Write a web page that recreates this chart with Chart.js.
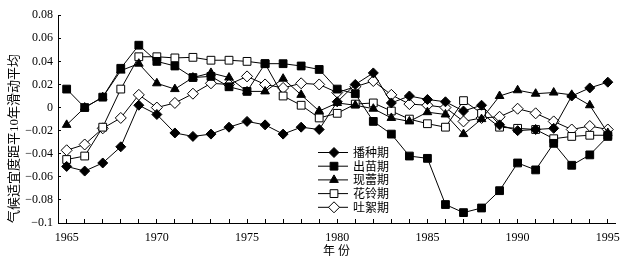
<!DOCTYPE html>
<html><head><meta charset="utf-8">
<script src="https://cdn.jsdelivr.net/npm/chart.js@4.4.1/dist/chart.umd.min.js"></script>
<style>html,body{margin:0;padding:0;background:#fff;}#wrap{width:632px;height:265px;position:relative;}</style>
</head><body>
<div id="wrap"><canvas id="c" width="632" height="265"></canvas></div>
<script>
const years = [1965,1966,1967,1968,1969,1970,1971,1972,1973,1974,1975,1976,1977,1978,1979,1980,1981,1982,1983,1984,1985,1986,1987,1988,1989,1990,1991,1992,1993,1994,1995];
const seriesNames = ['播种期','出苗期','现蕾期','花铃期','吐絮期'];
const sowing =   [-0.051,-0.055,-0.048,-0.034,0.002,-0.006,-0.022,-0.025,-0.023,-0.017,-0.012,-0.015,-0.023,-0.017,-0.019,0.005,0.020,0.030,0.004,0.010,0.007,0.005,-0.003,0.002,-0.015,-0.020,-0.019,-0.018,0.010,0.017,0.022];
const emergence = [0.016,0.000,0.009,0.034,0.054,0.040,0.036,0.026,0.027,0.018,0.014,0.038,0.038,0.036,0.033,0.016,0.012,-0.012,-0.023,-0.042,-0.044,-0.084,-0.091,-0.087,-0.072,-0.048,-0.054,-0.031,-0.050,-0.041,-0.025];
const budding =  [-0.015,0.000,0.009,0.032,0.038,0.021,0.016,0.026,0.030,0.026,0.014,0.014,0.025,0.011,-0.003,0.004,0.002,-0.001,-0.009,-0.012,-0.004,-0.006,-0.023,-0.010,0.010,0.015,0.012,0.013,0.011,0.002,-0.022];
const flowering = [-0.045,-0.042,-0.017,0.016,0.044,0.044,0.043,0.0435,0.041,0.041,0.040,0.038,0.010,0.002,-0.009,-0.005,0.003,0.004,-0.003,-0.010,-0.014,-0.017,0.006,-0.005,-0.017,-0.018,-0.019,-0.027,-0.025,-0.024,-0.024];
const boll =     [-0.037,-0.032,-0.018,-0.009,0.011,0.000,0.004,0.012,0.021,0.020,0.027,0.020,0.017,0.021,0.020,0.013,0.018,0.023,0.011,0.003,0.002,0.000,-0.012,-0.009,-0.008,-0.001,-0.005,-0.012,-0.019,-0.016,-0.019];
const yTickValues = [-0.1,-0.08,-0.06,-0.04,-0.02,0,0.02,0.04,0.06,0.08];
const yTickLabels = ['−0.1','−0.08','−0.06','−0.04','−0.02','0','0.02','0.04','0.06','0.08'];
const xTickLabels = ['1965','1970','1975','1980','1985','1990','1995'];
const yTitle = '气候适宜度距平10年滑动平均';
const xTitle = '年 份';

const serif = "'Liberation Serif','Times New Roman',serif";
const cjk = "'Liberation Serif','Noto Sans CJK SC',serif";

function mk(label, data, style, fill, r) {
  return {
    label, data: years.map((y, i) => ({x: y, y: data[i]})),
    borderColor: '#000', borderWidth: 1, backgroundColor: fill,
    pointStyle: style, pointRadius: r, pointHoverRadius: r,
    pointBackgroundColor: fill, pointBorderColor: '#000', pointBorderWidth: 1,
    tension: 0, fill: false
  };
}
const datasets = [
  mk(seriesNames[0], sowing, 'rectRot', '#000', 5),
  mk(seriesNames[1], emergence, 'rect', '#000', 5.5),
  mk(seriesNames[2], budding, 'triangle', '#000', 5),
  mk(seriesNames[3], flowering, 'rect', '#fff', 5.5),
  mk(seriesNames[4], boll, 'rectRot', '#fff', 5.5)
];

const legendPlugin = {
  id: 'customLegend',
  afterDraw(chart) {
    const ctx = chart.ctx;
    ctx.save();
    chart.data.datasets.forEach((ds, i) => {
      const y = 152.5 + i * 13.7;
      ctx.strokeStyle = '#000'; ctx.lineWidth = 1;
      ctx.beginPath(); ctx.moveTo(318, y); ctx.lineTo(348, y); ctx.stroke();
      ctx.fillStyle = ds.pointBackgroundColor; ctx.strokeStyle = '#000'; ctx.lineWidth = 1;
      Chart.helpers.drawPoint(ctx, {pointStyle: ds.pointStyle, radius: ds.pointRadius, borderWidth: 1, rotation: 0}, 334, y);
      ctx.fillStyle = '#000';
      ctx.font = "12px 'Noto Sans CJK SC'";
      ctx.textBaseline = 'middle'; ctx.textAlign = 'left';
      ctx.fillText(ds.label, 353, y);
    });
    ctx.restore();
  }
};

new Chart(document.getElementById('c'), {
  type: 'line',
  data: {datasets},
  plugins: [legendPlugin],
  options: {
    responsive: false, animation: false, devicePixelRatio: 1,
    layout: {padding: {left: 0, right: 15, top: 12, bottom: 0}},
    plugins: {legend: {display: false}, tooltip: {enabled: false}},
    scales: {
      x: {
        type: 'linear', min: 1964.52, max: 1995.4,
        afterBuildTicks: (s) => { s.ticks = years.map(v => ({value: v})); },
        afterFit: (s) => { s.height = 42; },
        ticks: {
          autoSkip: false, maxRotation: 0, padding: 12, color: '#000',
          font: {family: serif, size: 12},
          callback: (v) => xTickLabels.includes(String(v)) ? String(v) : ''
        },
        grid: {display: true, drawOnChartArea: false, drawTicks: true, tickLength: -4, color: '#000', lineWidth: 1},
        border: {display: true, color: '#000', width: 1},
        title: {display: true, text: xTitle, color: '#000', font: {family: cjk, size: 12}, padding: {top: 0, bottom: 6}}
      },
      y: {
        min: -0.1, max: 0.08,
        afterBuildTicks: (s) => { s.ticks = yTickValues.map(v => ({value: v})); },
        afterFit: (s) => { s.width = 58; },
        ticks: {
          padding: 8, color: '#000', font: {family: serif, size: 12},
          callback: (v, i) => yTickLabels[i]
        },
        grid: {display: true, drawOnChartArea: false, drawTicks: true, tickLength: -3, color: '#000', lineWidth: 1},
        border: {display: true, color: '#000', width: 1},
        title: {display: true, text: yTitle, align: 'start', color: '#000', font: {family: cjk, size: 13}, padding: {top: 7, bottom: 0}}
      }
    }
  }
});
</script>
</body></html>
